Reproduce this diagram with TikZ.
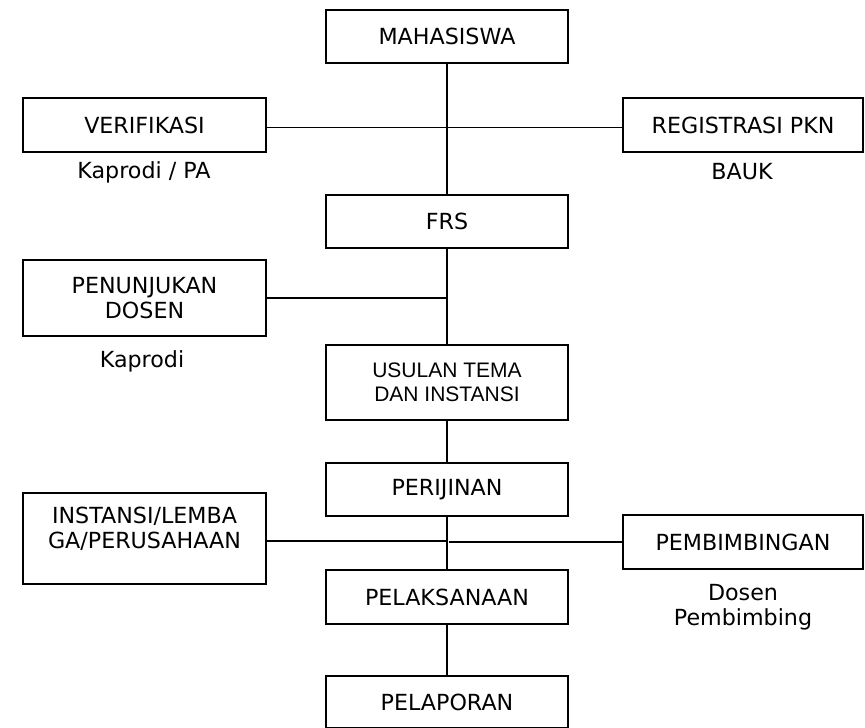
\documentclass[tikz,border=0pt]{standalone}
\usepackage{fontspec}
\setmainfont{DejaVu Sans}
\newfontfamily\arialfont{Liberation Sans}
\begin{document}
\begin{tikzpicture}[x=1pt,y=-1pt,
  box/.style={draw, line width=1.5pt, minimum width=242pt, minimum height=53pt, inner sep=0pt, outer sep=0pt, align=center, font=\fontsize{22.2}{25}\selectfont},
  lbl/.style={font=\fontsize{22.2}{25}\selectfont, inner sep=0pt, align=center},
  conn/.style={line width=1.5pt}]
\useasboundingbox (0,0) rectangle (865,728);
% centre column
\node[box] (mah) at (447,36.5) {MAHASISWA};
\node[box] (frs) at (447,221.5) {FRS};
\node[box, minimum height=75pt, font=\arialfont\fontsize{21}{24}\selectfont] (usl) at (447,382.5) {USULAN TEMA\\DAN INSTANSI};
\node[box] (per) at (447,489.5) {PERIJINAN};
\node[box, minimum height=54pt] (pel) at (447,597) {PELAKSANAAN};
\node[box, minimum height=52pt] (lap) at (447,702) {PELAPORAN};
% left column
\node[box, minimum width=243pt, minimum height=54pt] (ver) at (144.5,125) {VERIFIKASI};
\node[box, minimum width=243pt, minimum height=76pt] (pen) at (144.5,298) {PENUNJUKAN\\DOSEN};
\node[box, minimum width=243pt, minimum height=91pt] (ins) at (144.5,538.5) {};
\node[lbl] (instxt) at (144.5,529) {INSTANSI/LEMBA\\GA/PERUSAHAAN};
% right column
\node[box, minimum width=240pt, minimum height=54pt] (reg) at (743,125) {REGISTRASI PKN};
\node[box, minimum width=240pt, minimum height=54pt] (pem) at (743,542) {PEMBIMBINGAN};
% labels
\node[lbl, anchor=base] (lver) at (144,178) {Kaprodi / PA};
\node[lbl, anchor=base] (lreg) at (742,179) {BAUK};
\node[lbl, anchor=base] (lpen) at (142,367) {Kaprodi};
\node[lbl, anchor=north] (lpem) at (743,584) {Dosen\\Pembimbing};
% spine
\draw[conn] (mah.south) -- (frs.north);
\draw[conn] (frs.south) -- (usl.north);
\draw[conn] (usl.south) -- (per.north);
\draw[conn] (per.south) -- (pel.north);
\draw[conn] (pel.south) -- (lap.north);
% branches
\draw[conn] ([yshift=-2.5pt]ver.east) -- ([yshift=-2.5pt]reg.west);
\draw[conn] (pen.east) -- (pen.east -| frs.south);
\coordinate (j1) at (447,541);
\coordinate (j2) at (449,542);
\draw[conn] (ins.east |- j1) -- (j1);
\draw[conn] (pem.west) -- (j2);
\end{tikzpicture}
\end{document}
